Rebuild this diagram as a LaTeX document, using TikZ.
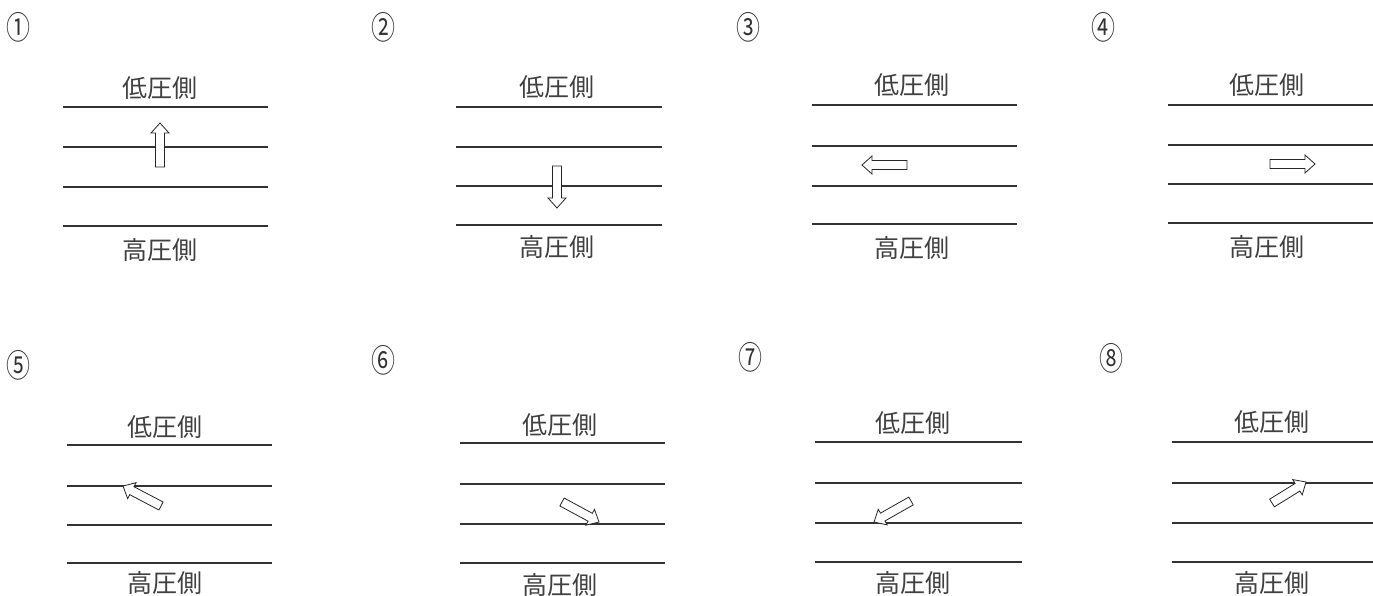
\documentclass[tikz,border=0pt]{standalone}
\usepackage{fontspec}
\newfontfamily\cjk{Noto Sans CJK JP}
\usetikzlibrary{calc}
\tikzset{
  wall/.style={draw=black!80, line width=1.2pt},
  lbl/.style={font=\cjk\fontsize{25}{27}\selectfont, text=black!75, inner sep=0pt},
  num/.style={font=\cjk\fontsize{32}{34}\selectfont, text=black!80, inner sep=0pt, xscale=0.75},
  blk/.style={draw=black!85, line width=0.8pt, fill=white, line join=miter}
}
\newcommand{\blkarrow}[3]{%
  \coordinate (#3h) at ($(#2)!10pt!(#1)$);
  \draw[blk] ($(#1)!4.5pt!90:(#2)$) -- ($(#3h)!4.5pt!90:(#2)$) -- ($(#3h)!9pt!90:(#2)$) -- (#2)
    -- ($(#3h)!9pt!-90:(#2)$) -- ($(#3h)!4.5pt!-90:(#2)$) -- ($(#1)!4.5pt!-90:(#2)$) -- cycle;}
% panel: name, x1, x2, y1..y4, label x, top label y
\newcommand{\panel}[9]{%
  \foreach \yy [count=\k] in {#4,#5,#6,#7} {
    \coordinate (#1l\k) at (#2,\yy);
    \coordinate (#1r\k) at (#3,\yy);
    \draw[wall] (#1l\k) -- (#1r\k);
  }
  \node[lbl] (#1low) at (#8,#9) {低圧側};
}
\begin{document}
\begin{tikzpicture}[x=1pt,y=-1pt]
\useasboundingbox (0,0) rectangle (1373,596);
\fill[white] (0,0) rectangle (1373,596);
% numbers
\node[num] (n1) at (18,27) {①};
\node[num] (n2) at (383,27) {②};
\node[num] (n3) at (748,27) {③};
\node[num] (n4) at (1103,27) {④};
\node[num] (n5) at (18,365) {⑤};
\node[num] (n6) at (383,360) {⑥};
\node[num] (n7) at (750,357) {⑦};
\node[num] (n8) at (1111,358) {⑧};
% panels
\panel{a}{63}{268}{107}{147}{187}{226}{160}{88}
\node[lbl] (ahigh) at (160,250) {高圧側};
\panel{b}{456}{662}{107}{147}{186}{225}{557}{87}
\node[lbl] (bhigh) at (557,247) {高圧側};
\panel{c}{812}{1017}{105}{146}{186}{224}{912}{85}
\node[lbl] (chigh) at (912,248) {高圧側};
\panel{d}{1168}{1373}{105}{145}{184}{223}{1267}{85}
\node[lbl] (dhigh) at (1267,247) {高圧側};
\panel{e}{67}{272}{445}{486}{525}{563}{165}{427}
\node[lbl] (ehigh) at (165,583) {高圧側};
\panel{f}{460}{665}{443}{484}{524}{563}{560}{425}
\node[lbl] (fhigh) at (560,585) {高圧側};
\panel{g}{815}{1022}{442}{483}{523}{562}{913}{423}
\node[lbl] (ghigh) at (913,583) {高圧側};
\panel{h}{1172}{1373}{442}{483}{523}{562}{1272}{422}
\node[lbl] (hhigh) at (1272,583) {高圧側};
% arrows
\coordinate (at) at (160,167); \coordinate (ap) at (160,123); \blkarrow{at}{ap}{aa}
\coordinate (bt) at (557,166); \coordinate (bp) at (557,208); \blkarrow{bt}{bp}{bb}
\coordinate (ct) at (907,165); \coordinate (cp) at (862,165); \blkarrow{ct}{cp}{cc}
\coordinate (dt) at (1270,164); \coordinate (dp) at (1315,164); \blkarrow{dt}{dp}{dd}
\coordinate (et) at (161,506); \coordinate (ep) at (123,486); \blkarrow{et}{ep}{ee}
\coordinate (ft) at (562,502); \coordinate (fp) at (599,522); \blkarrow{ft}{fp}{ff}
\coordinate (gt) at (911,501); \coordinate (gp) at (874,522); \blkarrow{gt}{gp}{gg}
\coordinate (ht) at (1272,503); \coordinate (hp) at (1306,482); \blkarrow{ht}{hp}{hh}
\end{tikzpicture}
\end{document}
